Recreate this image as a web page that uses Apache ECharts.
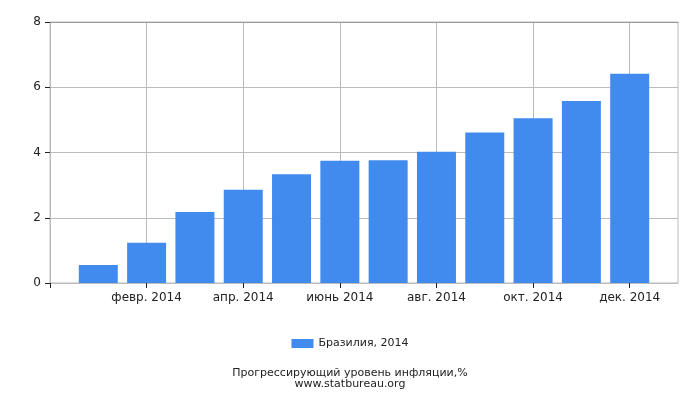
<!DOCTYPE html>
<html>
<head>
<meta charset="utf-8">
<script src="https://cdn.jsdelivr.net/npm/echarts@6/dist/echarts.min.js"></script>
<style>html,body{margin:0;padding:0;background:#fff}#c{width:700px;height:400px}</style>
</head>
<body>
<div id="c"></div>
<script>
var categories = ['', 'янв. 2014', 'февр. 2014', 'март 2014', 'апр. 2014', 'май 2014', 'июнь 2014', 'июль 2014', 'авг. 2014', 'сент. 2014', 'окт. 2014', 'нояб. 2014', 'дек. 2014', ''];
var brazil2014 = [null, 0.55, 1.23, 2.18, 2.86, 3.33, 3.75, 3.76, 4.02, 4.61, 5.05, 5.58, 6.41, null];
var yTicks = [0, 2, 4, 6, 8];
var seriesName = 'Бразилия, 2014';
var titleLines = ['Прогрессирующий уровень инфляции,%', 'www.statbureau.org'];

var chart = echarts.init(document.getElementById('c'));
var F = 'DejaVu Sans';
chart.setOption({
  animation: false,
  textStyle: {fontFamily: F},
  title: {
    text: titleLines.join('\n'),
    left: 'center', top: 363,
    textStyle: {fontFamily: F, fontSize: 11, fontWeight: 'normal', color: '#222', lineHeight: 11}
  },
  legend: {
    data: [seriesName], top: 333, left: 'center',
    itemWidth: 22, itemHeight: 9, icon: 'rect',
    textStyle: {fontFamily: F, fontSize: 11, color: '#222'}
  },
  grid: {left: 50, right: 22, top: 22, bottom: 117, show: true, borderColor: '#bbb', borderWidth: 1},
  xAxis: [{
    type: 'category', data: categories, boundaryGap: false,
    axisLine: {lineStyle: {color: '#bbb'}},
    axisTick: {show: true, length: 5, lineStyle: {color: '#222'}, interval: function (i) { return i % 2 === 0 && i < 13; }},
    axisLabel: {color: '#222', fontSize: 12, margin: 9, interval: function (i) { return i % 2 === 0 && i > 0 && i < 13; }},
    splitLine: {show: true, lineStyle: {color: '#bbb'}, interval: function (i) { return i % 2 === 0 && i > 0 && i < 13; }}
  }, {
    type: 'category', data: categories, boundaryGap: false, position: 'top',
    axisLine: {show: true, lineStyle: {color: '#999'}},
    axisTick: {show: false}, axisLabel: {show: false}, splitLine: {show: false}
  }],
  yAxis: {
    type: 'value', min: yTicks[0], max: yTicks[yTicks.length - 1], interval: 2,
    axisLine: {show: true, lineStyle: {color: '#bbb'}},
    axisTick: {show: true, length: 5, lineStyle: {color: '#222'}},
    axisLabel: {color: '#222', fontSize: 12, margin: 9},
    splitLine: {lineStyle: {color: '#bbb'}}
  },
  series: [{
    name: seriesName, type: 'bar', data: brazil2014, barWidth: 39, xAxisIndex: 0,
    itemStyle: {color: '#418bef'}
  }]
});
</script>
</body>
</html>
